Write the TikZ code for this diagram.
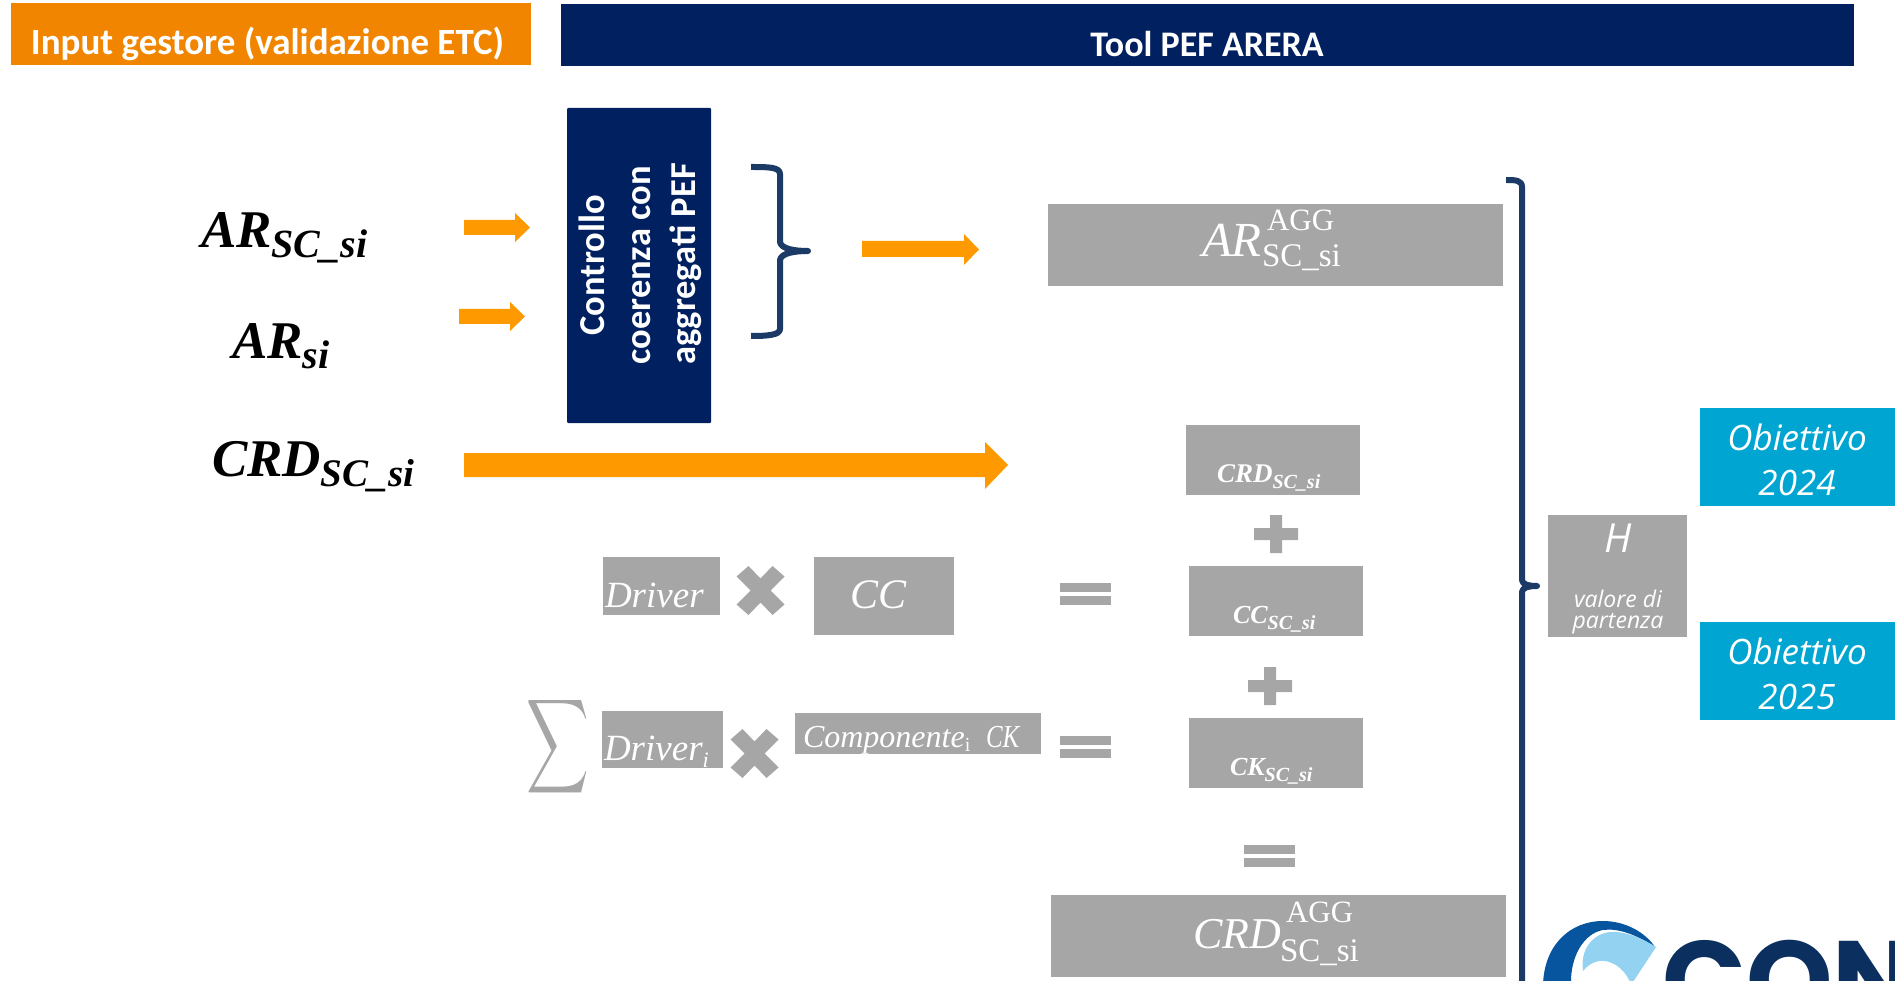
\documentclass[tikz,border=0pt]{standalone}
\usepackage{fontspec}
\setmainfont{Liberation Serif}
\newfontfamily\opensans{Open Sans}
\newfontfamily\carlito{Carlito}
\newfontfamily\logofont{Poppins}
\definecolor{hdrorange}{HTML}{F28500}
\definecolor{arroworange}{HTML}{FF9900}
\definecolor{navy}{HTML}{002060}
\definecolor{bracenavy}{HTML}{1B3A65}
\definecolor{panelgrey}{HTML}{A6A6A6}
\definecolor{goalblue}{HTML}{00A5D1}
\definecolor{logoblue}{HTML}{07549F}
\definecolor{logosky}{HTML}{93D2F1}
\definecolor{logonavy}{HTML}{0B2F5F}
\newcommand{\fsz}[1]{\fontsize{#1}{#1}\selectfont}
% label with subscript: size, main, drop, subsize, sub
\newcommand{\lowsub}[5]{{\fsz{#1}#2}\raisebox{-#3pt}{\fsz{#4}#5}}
\tikzset{
  x=1pt,y=-1pt,
  panel/.style={fill=panelgrey},
  lbl/.style={anchor=base west,inner sep=0pt,outer sep=0pt},
  blacklbl/.style={lbl,text=black,font=\bfseries\itshape},
  whitebold/.style={lbl,text=white,font=\bfseries\itshape},
  whiteital/.style={lbl,text=white,font=\itshape},
  whiteup/.style={lbl,text=white},
  sanscap/.style={anchor=base,inner sep=0pt,text=white},
  sansit/.style={anchor=base,inner sep=0pt,text=white},
  ctrltext/.style={rotate=90,anchor=base,inner sep=0pt,text=white,font=\carlito\bfseries\fsz{36.5}},
  bracestroke/.style={draw=bracenavy,line width=6pt,line cap=butt,line join=round},
  mulmark/.pic={\fill[panelgrey] (0,-12)--(12,-24.5)--(24,-14)--(10,0)--(24,14)--(12,24.5)--(0,12)--(-12,24.5)--(-24,14)--(-10,0)--(-24,-14)--(-12,-24.5)--cycle;},
  plusmark/.pic={\fill[panelgrey] (-6,-19)--(6,-19)--(6,-6)--(22,-6)--(22,6)--(6,6)--(6,19)--(-6,19)--(-6,6)--(-22,6)--(-22,-6)--(-6,-6)--cycle;},
  eqmark/.pic={\fill[panelgrey] (-25.5,-11) rectangle (25.5,-2);\fill[panelgrey] (-25.5,2) rectangle (25.5,11);},
}
\begin{document}
\begin{tikzpicture}
\useasboundingbox (0,0) rectangle (1895,981);
\clip (0,0) rectangle (1895,981);
% headers
\fill[hdrorange] (11,3) rectangle (531,65.5);
\fill[navy] (561,4) rectangle (1854,66);
\node[sanscap,font=\carlito\bfseries\fsz{37}] (hinput) at (267.5,55) {Input gestore (validazione ETC)};
\node[sanscap,font=\carlito\bfseries\fsz{36}] (htool) at (1207,57) {Tool PEF ARERA};
% control box
\fill[navy,rounded corners=1pt] (567,108) rectangle (711,423);
\node[ctrltext] (ctrla) at (604,265.5) {Controllo};
\node[ctrltext] (ctrlb) at (650,265.5) {coerenza con};
\node[ctrltext] (ctrlc) at (695,264) {aggregati PEF};
% input labels
\node[blacklbl] (arsc) at (201,248) {\lowsub{53}{AR}{10}{40}{SC\_si}};
\node[blacklbl] (arsi) at (232,359) {\lowsub{53}{AR}{10}{40}{si}};
\node[blacklbl] (crdsc) at (212,476) {\lowsub{53}{CRD}{10}{39}{SC\_si}};
% orange arrows
\fill[arroworange] (464,220)--(515,220)--(515,213)--(530,227.5)--(515,242)--(515,235)--(464,235)--cycle;
\fill[arroworange] (459,309)--(510,309)--(510,302)--(525,316.5)--(510,331)--(510,324)--(459,324)--cycle;
\fill[arroworange] (862,241)--(964,241)--(964,234)--(979,249.5)--(964,265)--(964,257)--(862,257)--cycle;
\fill[arroworange] (464,453)--(985,453)--(985,442)--(1008,465)--(985,489)--(985,477)--(464,477)--cycle;
% braces
\draw[bracestroke] (751,167) .. controls (768,167) and (780,167) .. (780,174) -- (780,242) .. controls (781,249) and (795,251) .. (808,251);
\draw[bracestroke] (808,251) .. controls (795,251) and (781,253) .. (780,260) -- (780,329) .. controls (780,335) and (768,336) .. (751,336);
\fill[bracenavy] (808,251) circle (3);
\draw[bracestroke] (1506,180) .. controls (1515,180) and (1522,180) .. (1522,187) -- (1522,580) .. controls (1522,585) and (1530,586) .. (1537,586);
\draw[bracestroke] (1537,586) .. controls (1530,586) and (1522,587) .. (1522,592) -- (1522,990);
\fill[bracenavy] (1537,586) circle (3);
% right column
\fill[panel] (1048,204) rectangle (1503,286);
\node[whiteital] (aragg) at (1202,257) {\fsz{49}AR};
\node[whiteup] (araggup) at (1267,231) {\fsz{31}AGG};
\node[whiteup] (araggdn) at (1262,267) {\fsz{33}SC\_si};
\fill[panel] (1186,425) rectangle (1360,495);
\node[whitebold] (crdlab) at (1217,482) {\lowsub{27}{CRD}{6}{20}{SC\_si}};
\pic at (1276,534) {plusmark};
\fill[panel] (1189,566) rectangle (1363,636);
\node[whitebold] (cclab) at (1233,623) {\lowsub{26}{CC}{6}{20}{SC\_si}};
\pic at (1270,686) {plusmark};
\fill[panel] (1189,718) rectangle (1363,788);
\node[whitebold] (cklab) at (1230,775) {\lowsub{26}{CK}{6}{20}{SC\_si}};
\pic at (1269.5,856) {eqmark};
\fill[panel] (1051,895) rectangle (1506,977);
\node[whiteital] (crdagg) at (1193,948) {\fsz{44}CRD};
\node[whiteup] (crdaggup) at (1286,922) {\fsz{31}AGG};
\node[whiteup] (crdaggdn) at (1280,961) {\fsz{33}SC\_si};
% driver rows
\fill[panel] (603,557) rectangle (720,615);
\node[whiteital] (drv) at (605,607) {\fsz{37}Driver};
\pic at (760.5,590.5) {mulmark};
\fill[panel] (814,557) rectangle (954,635);
\node[whiteital] (cc) at (850,608) {\fsz{42}CC};
\pic at (1085.5,594) {eqmark};
\node[inner sep=0pt,text=panelgrey] (sig) at (557.5,747) {\scalebox{4.35}[6.6]{$\displaystyle\sum$}};
\fill[panel] (602,711) rectangle (723,768);
\node[whiteital] (drvi) at (604,760) {\lowsub{37}{Driver}{7}{22}{i}};
\pic at (754.5,753.5) {mulmark};
\fill[panel] (795,713) rectangle (1041,754);
\node[whiteital] (comp) at (803,747) {\fsz{32}Componente\raisebox{-4pt}{\upshape\fsz{20}i}};
\node[whiteital] (ck) at (986,747) {\fsz{32}\scalebox{0.78}[1]{CK}};
\pic at (1085.5,746.5) {eqmark};
% H box
\fill[panel] (1548,515) rectangle (1687,637);
\node[sansit,font=\opensans\itshape\fsz{40}] (hlab) at (1618,552) {H};
\node[sansit,font=\opensans\itshape\fsz{23}] (val) at (1618,607) {valore di};
\node[sansit,font=\opensans\itshape\fsz{23}] (part) at (1618,628) {partenza};
% goals
\fill[goalblue] (1700,408) rectangle (1895,506);
\node[sansit,font=\opensans\itshape\fsz{35}] (oa1) at (1797,450) {Obiettivo};
\node[sansit,font=\opensans\itshape\fsz{35}] (oa2) at (1797,495) {2024};
\fill[goalblue] (1700,622) rectangle (1895,720);
\node[sansit,font=\opensans\itshape\fsz{35}] (ob1) at (1797,664) {Obiettivo};
\node[sansit,font=\opensans\itshape\fsz{35}] (ob2) at (1797,709) {2025};
% logo
\fill[logoblue] (1543,985) .. controls (1544,945) and (1570,921) .. (1603,921) .. controls (1625,921) and (1645,932) .. (1655,947) .. controls (1635,934) and (1618,928) .. (1603,930) .. controls (1585,933) and (1570,955) .. (1571,985) -- cycle;
\fill[logosky] (1583,971) .. controls (1580,950) and (1592,934) .. (1610,932) .. controls (1625,931) and (1642,938) .. (1656,947) -- (1631,985) .. controls (1625,965) and (1600,950) .. (1583,971) -- cycle;
\node[anchor=base west,inner sep=0pt,text=logonavy,font=\logofont\bfseries\fsz{110}] (logo) at (1662,1018) {CON};
\end{tikzpicture}
\end{document}
